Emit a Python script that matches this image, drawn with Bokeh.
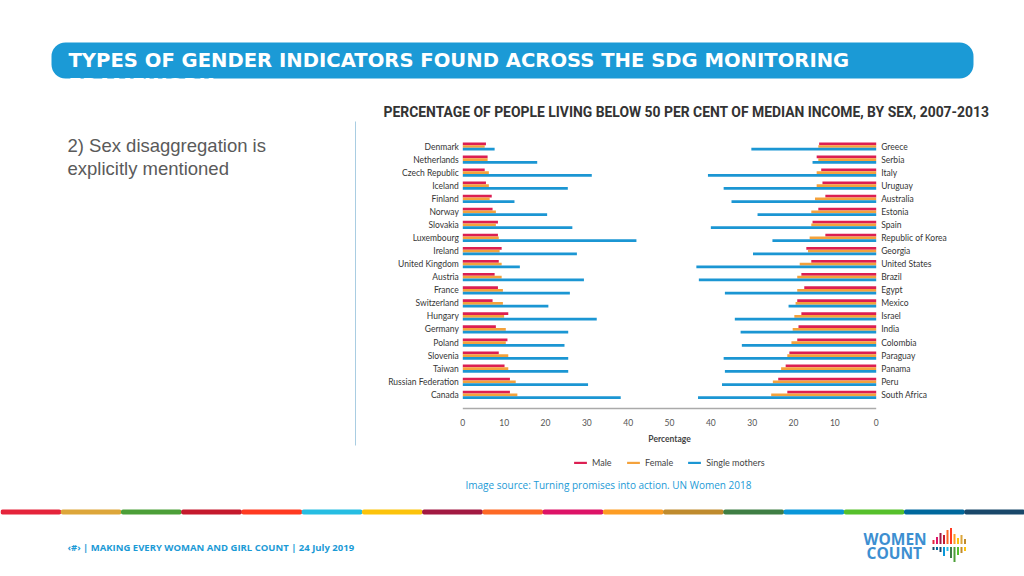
from bokeh.plotting import figure
from bokeh.models import (Range1d, Label, BoxAnnotation, Legend, LegendItem, ColumnDataSource)
from bokeh.transform import dodge
from bokeh.core.properties import value
from bokeh.embed import file_html
from bokeh.resources import INLINE

# ---------------- data ----------------
countries_left = ["Denmark", "Netherlands", "Czech Republic", "Iceland", "Finland", "Norway",
                  "Slovakia", "Luxembourg", "Ireland", "United Kingdom", "Austria", "France",
                  "Switzerland", "Hungary", "Germany", "Poland", "Slovenia", "Taiwan",
                  "Russian Federation", "Canada"]
male_left = [5.6, 6.0, 5.3, 5.6, 7.0, 7.2, 8.5, 8.5, 9.4, 8.7, 7.7, 8.5, 7.2, 11.0, 8.0, 10.8, 8.7, 10.1, 11.4, 11.4]
female_left = [5.3, 6.0, 6.3, 6.3, 6.5, 8.0, 8.0, 8.7, 8.9, 9.4, 9.4, 9.7, 9.7, 10.0, 10.4, 10.4, 11.0, 11.0, 12.8, 13.2]
single_left = [7.7, 18.0, 31.2, 25.4, 12.5, 20.4, 26.5, 42.0, 27.6, 13.8, 29.3, 25.9, 20.7, 32.4, 25.5, 24.6, 25.5, 25.5, 30.3, 38.2]

countries_right = ["Greece", "Serbia", "Italy", "Uruguay", "Australia", "Estonia", "Spain",
                   "Republic of Korea", "Georgia", "United States", "Brazil", "Egypt", "Mexico",
                   "Israel", "India", "Colombia", "Paraguay", "Panama", "Peru", "South Africa"]
male_right = [13.8, 14.4, 13.3, 13.0, 12.3, 14.0, 15.4, 12.3, 16.9, 15.7, 18.1, 17.4, 19.1, 18.1, 18.8, 19.1, 21.0, 21.9, 23.7, 21.5]
female_right = [14.0, 14.0, 14.4, 14.4, 14.8, 15.7, 15.7, 16.1, 16.5, 18.5, 19.1, 19.1, 19.5, 19.8, 20.2, 20.5, 21.5, 23.0, 25.0, 25.4]
single_right = [30.2, 15.4, 40.7, 36.9, 35.0, 28.7, 40.0, 25.1, 29.8, 43.5, 42.9, 36.6, 21.2, 34.2, 32.8, 32.5, 36.9, 36.6, 37.3, 43.1]

series_names = ["Male", "Female", "Single mothers"]
x_tick_values = [0, 10, 20, 30, 40, 50, 60, 70, 80, 90, 100]
x_tick_labels = ["0", "10", "20", "30", "40", "50", "40", "30", "20", "10", "0"]

# ---------------- style / layout ----------------
MALE_C = "#dc1f52"
FEMALE_C = "#f4a23c"
SINGLE_C = "#1b96d3"
BLUE = "#1b9ad6"
W, H = 1024, 576
X0, X1 = 462.3, 875.7      # page x of the left zero and of the right zero
Y0, STEP = 146.0, 13.07    # page y of the first country row, row spacing
AXIS_Y = 408.0             # page y of the horizontal axis line

# The canvas is one frame in page-pixel units (y downward); the chart has its own ranges.
p = figure(width=W, height=H, output_backend="svg", toolbar_location=None,
           x_range=Range1d(0, W), y_range=Range1d(H, 0), min_border=0,
           x_axis_type=None, y_axis_type=None, outline_line_color=None,
           background_fill_color="white", border_fill_color="white")
p.grid.visible = False
sx = (X1 - X0) / 100.0
p.extra_x_ranges = {
    "left": Range1d(-X0 / sx, (W - X0) / sx),    # 0..50 from the left zero rightwards
    "right": Range1d(X1 / sx, (X1 - W) / sx),    # 0..50 from the right zero leftwards
    "scale": Range1d(-X0 / sx, (W - X0) / sx),   # 0..100 axis scale
}
p.extra_y_ranges = {"rows": Range1d((H - Y0) / STEP, -Y0 / STEP)}


def box(l, t, r, b, color, radius=0):
    p.add_layout(BoxAnnotation(left=l, right=r, top=t, bottom=b, fill_color=color, fill_alpha=1,
                               line_color=None, border_radius=radius, level="underlay"))


def text(t, x, y, size, color, font="Open Sans", style="normal", align="left"):
    p.add_layout(Label(x=x, y=y, text=t, text_font=font, text_font_size=size, text_color=color,
                       text_font_style=style, text_align=align, text_baseline="middle"))


# ---------------- chart ----------------
rows = list(range(len(countries_left)))
src_l = ColumnDataSource(dict(y=rows, country=countries_left, male=male_left,
                              female=female_left, single=single_left))
src_r = ColumnDataSource(dict(y=rows, country=countries_right, male=male_right,
                              female=female_right, single=single_right))

bar_h = 0.21
rends = {}
for name, src in (("left", src_l), ("right", src_r)):
    kw = dict(source=src, x_range_name=name, y_range_name="rows", line_color=None, height=bar_h)
    rends[(name, "m")] = p.hbar(y=dodge("y", -0.21), left=0, right="male", fill_color=MALE_C, **kw)
    rends[(name, "f")] = p.hbar(y=dodge("y", 0.0), left=0, right="female", fill_color=FEMALE_C, **kw)
    rends[(name, "s")] = p.hbar(y=dodge("y", 0.21), left=0, right="single", fill_color=SINGLE_C, **kw)

# country labels
lab_kw = dict(y="y", text="country", y_range_name="rows", text_baseline="middle",
              text_font=value("Lato"), text_font_size="8.5px", text_color="#353535")
p.text(x=0, x_range_name="left", x_offset=-4, text_align="right", source=src_l, **lab_kw)
p.text(x=0, x_range_name="right", x_offset=5, text_align="left", source=src_r, **lab_kw)

# x axis: line, tick labels, title
p.segment(x0=[min(x_tick_values)], x1=[max(x_tick_values)], y0=[AXIS_Y], y1=[AXIS_Y],
          x_range_name="scale", line_color="#aaaaaa", line_width=1.5)
p.text(x=x_tick_values, y=[AXIS_Y + 13.5] * len(x_tick_values), text=x_tick_labels,
       x_range_name="scale", text_align="center", text_baseline="middle",
       text_font=value("Lato"), text_font_size="8.5px", text_color="#555555")
p.text(x=[50], y=[AXIS_Y + 30], text=["Percentage"], x_range_name="scale",
       text_align="center", text_baseline="middle", text_font=value("Lato"),
       text_font_size="8.5px", text_font_style="bold", text_color="#444444")

legend = Legend(items=[LegendItem(label=series_names[0], renderers=[rends[("left", "m")]]),
                       LegendItem(label=series_names[1], renderers=[rends[("left", "f")]]),
                       LegendItem(label=series_names[2], renderers=[rends[("left", "s")]])],
                orientation="horizontal", location=(572, H - 468),
                glyph_width=16, glyph_height=3, label_height=10, label_standoff=4, spacing=13,
                padding=0, margin=0, border_line_color=None, background_fill_alpha=0,
                label_text_font="Lato", label_text_font_size="9px", label_text_color="#444444")
p.add_layout(legend)

# ---------------- slide decorations ----------------
box(51, 42, 973, 78, BLUE, radius=14)
text("TYPES OF GENDER INDICATORS FOUND ACROSS THE SDG MONITORING", 68, 59.5, "19.6px", "white",
     font="DejaVu Sans", style="bold")
text("FRAMEWORK", 68, 85, "19.6px", "white", font="DejaVu Sans", style="bold")
text("PERCENTAGE OF PEOPLE LIVING BELOW 50 PER CENT OF MEDIAN INCOME, BY SEX, 2007-2013",
     383, 111, "13.9px", "#333333", font="Roboto", style="bold")

text("2) Sex disaggregation is", 67, 145, "18.5px", "#5a5a5a", font="Liberation Sans")
text("explicitly mentioned", 67, 167.5, "18.5px", "#5a5a5a", font="Liberation Sans")
box(354.5, 121, 355.5, 445, "#a9cde2")

text("Image source: Turning promises into action. UN Women 2018", 465, 484, "10px", BLUE)

sdg = ["#e5243b", "#dda63a", "#4c9f38", "#c5192d", "#ff3a21", "#26bde2", "#fcc30b", "#a21942",
       "#fd6925", "#dd1367", "#fd9d24", "#bf8b2e", "#3f7e44", "#0a97d9", "#56c02b", "#00689d",
       "#19486a"]
seg = W / len(sdg)
for i, c in enumerate(sdg):
    box(i * seg, 509, (i + 1) * seg + 0.5, 514, c, radius=2)

text("\u2039#\u203a | MAKING EVERY WOMAN AND GIRL COUNT | 24 July 2019", 67, 546.5, "9.5px",
     BLUE, style="bold")
text("WOMEN", 863, 538, "15.5px", "#3d8fd1", style="bold")
text("COUNT", 866, 552, "15.5px", "#3d8fd1", style="bold")
top_bars = [(4, "#e5243b"), (7, "#dd1367"), (11, "#a21942"), (9, "#c5192d"), (14, "#fd6925"),
            (16, "#ff3a21"), (10, "#fd9d24"), (6, "#fcc30b"), (9, "#dda63a"), (5, "#bf8b2e")]
bot_bars = [(3, "#19486a"), (3, "#00689d"), (5, "#19486a"), (9, "#0a97d9"), (4, "#26bde2"),
            (11, "#3f7e44"), (15, "#4c9f38"), (8, "#56c02b"), (6, "#bf8b2e"), (4, "#fcc30b")]
for i, (h, c) in enumerate(top_bars):
    x0 = 932 + i * 3.5
    box(x0, 543.5 - h, x0 + 2, 543.5, c)
for i, (h, c) in enumerate(bot_bars):
    x0 = 932 + i * 3.5
    box(x0, 546.5, x0 + 2, 546.5 + h, c)

open("out.html", "w").write(file_html(p, INLINE))
